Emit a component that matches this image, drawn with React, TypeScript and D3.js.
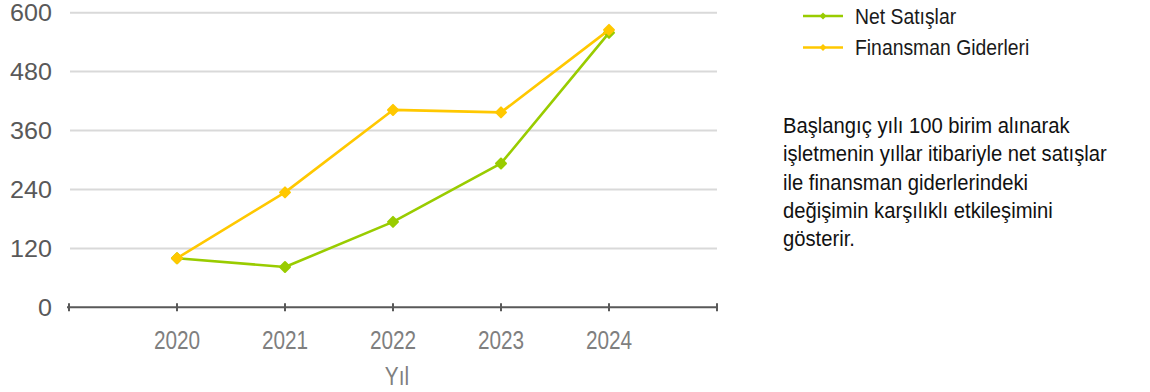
import React from "react";
import * as d3 from "d3";

const years = [2020, 2021, 2022, 2023, 2024];
const netSatislar = [100, 82, 174, 293, 559];
const finansmanGiderleri = [100, 234, 402, 397, 565];
const yTicks = [0, 120, 240, 360, 480, 600];
const axisTicks = [2019, 2020, 2021, 2022, 2023, 2024, 2025];
const seriesNames = ["Net Satışlar", "Finansman Giderleri"];
const seriesColors = ["#99cc00", "#ffc800"];
const noteLines = [
  "Başlangıç yılı 100 birim alınarak",
  "işletmenin yıllar itibariyle net satışlar",
  "ile finansman giderlerindeki",
  "değişimin karşılıklı etkileşimini",
  "gösterir.",
];

const W = 1150;
const H = 392;
const FONT = "'Liberation Sans', Arial, sans-serif";

function SText({ x, y, size, sx, anchor, fill, children }: any) {
  return (
    <g transform={`translate(${x},${y}) scale(${sx},1)`}>
      <text
        x={0}
        y={0}
        fontSize={size}
        fontFamily={FONT}
        fill={fill}
        textAnchor={anchor}
        dominantBaseline="central"
      >
        {children}
      </text>
    </g>
  );
}

export default function App() {
  const x = d3.scaleLinear().domain([2019, 2025]).range([69, 717]);
  const y = d3.scaleLinear().domain([0, 600]).range([307.3, 12.7]);
  const line = d3
    .line<number>()
    .x((_, i) => x(years[i]))
    .y((d) => y(d));
  const series = [netSatislar, finansmanGiderleri];
  const diamond = (cx: number, cy: number, s: number) =>
    `M${cx},${cy - s} L${cx + s},${cy} L${cx},${cy + s} L${cx - s},${cy} Z`;

  return (
    <svg
      width={W}
      height={H}
      style={{ position: "absolute", left: 0, top: 0, background: "#fff" }}
    >
      <rect width={W} height={H} fill="#fff" />
      {/* grid */}
      {yTicks
        .filter((t) => t > 0)
        .map((t) => (
          <line
            key={t}
            x1={70}
            x2={717}
            y1={y(t)}
            y2={y(t)}
            stroke="#d9d9d9"
            strokeWidth={2}
          />
        ))}
      {/* y labels */}
      {yTicks.map((t) => (
        <SText key={t} x={52} y={y(t)} size={23.5} sx={1.07} anchor="end" fill="#595959">
          {t}
        </SText>
      ))}
      {/* x axis */}
      <line x1={x(2019) - 2} x2={x(2025)} y1={y(0)} y2={y(0)} stroke="#595959" strokeWidth={2} />
      {axisTicks.map((t) => (
        <line
          key={t}
          x1={x(t)}
          x2={x(t)}
          y1={y(0) - 4}
          y2={y(0) + 4}
          stroke="#595959"
          strokeWidth={2}
        />
      ))}
      {years.map((yr) => (
        <SText key={yr} x={x(yr)} y={340} size={26} sx={0.8} anchor="middle" fill="#7f7f7f">
          {yr}
        </SText>
      ))}
      <SText x={397} y={376} size={26} sx={0.8} anchor="middle" fill="#7f7f7f">
        Yıl
      </SText>
      {/* series */}
      {series.map((vals, si) => (
        <g key={si}>
          <path
            d={line(vals) || ""}
            fill="none"
            stroke={seriesColors[si]}
            strokeWidth={2.6}
            strokeLinejoin="round"
          />
          {vals.map((v, i) => (
            <path
              key={i}
              d={diamond(x(years[i]), y(v), 5)}
              fill={seriesColors[si]}
              stroke={seriesColors[si]}
              strokeWidth={2}
              strokeLinejoin="round"
            />
          ))}
        </g>
      ))}
      {/* legend */}
      {seriesNames.map((name, i) => {
        const ly = 16 + i * 31.5;
        return (
          <g key={name}>
            <line x1={803} x2={843} y1={ly} y2={ly} stroke={seriesColors[i]} strokeWidth={2.6} />
            <path d={diamond(823, ly, 3.5)} fill={seriesColors[i]} />
            <SText x={855} y={ly} size={22} sx={0.88} anchor="start" fill="#1a1a1a">
              {name}
            </SText>
          </g>
        );
      })}
      {/* note */}
      {noteLines.map((l, i) => (
        <SText key={i} x={783} y={125 + i * 28.4} size={22} sx={0.92} anchor="start" fill="#111">
          {l}
        </SText>
      ))}
    </svg>
  );
}
